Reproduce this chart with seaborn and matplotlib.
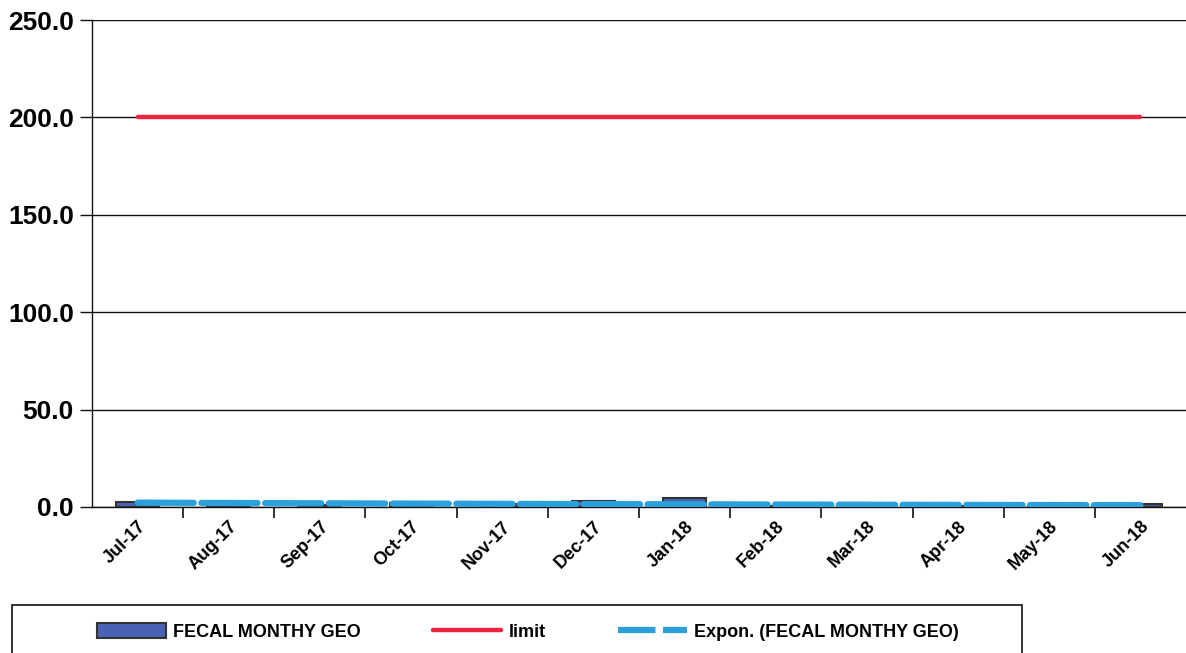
import numpy as np
import pandas as pd
import matplotlib
matplotlib.use("Agg")
import matplotlib.pyplot as plt
from matplotlib.patches import Rectangle, Patch
from matplotlib.lines import Line2D
import seaborn as sns

months = ["Jul-17", "Aug-17", "Sep-17", "Oct-17", "Nov-17", "Dec-17",
          "Jan-18", "Feb-18", "Mar-18", "Apr-18", "May-18", "Jun-18"]
fecal_geo = [2.6, 1.4, 1.2, 1.8, 1.5, 3.2, 4.6, 0.7, 1.4, 0.5, 0.6, 1.5]
limit = [200.0] * 12
y_ticks = [0, 50, 100, 150, 200, 250]

sns.set_theme(style="white")
plt.rcParams["font.family"] = ["Liberation Sans", "DejaVu Sans"]
plt.rcParams["text.color"] = "black"
plt.rcParams["xtick.color"] = "black"
plt.rcParams["ytick.color"] = "black"

df = pd.DataFrame({"month": months, "geo": fecal_geo, "limit": limit})

fig = plt.figure(figsize=(11.86, 6.53), dpi=100)
ax = fig.add_axes([92 / 1186, 1 - 507 / 653, 1 - 92 / 1186, (507 - 20) / 653])

bar_color = "#4a62b4"
limit_color = "#ec2440"
trend_color = "#2aa0dc"

sns.barplot(data=df, x="month", y="geo", color=bar_color, width=0.47,
            edgecolor="#333333", linewidth=1.5, saturation=1, ax=ax, zorder=3)

xpos = np.arange(len(months))
ax.plot(xpos, df["limit"], color=limit_color, lw=3.2, solid_capstyle="round", zorder=4)

# exponential trendline fitted to the monthly geometric means
b, log_a = np.polyfit(xpos, np.log(df["geo"]), 1)
trend = np.exp(log_a) * np.exp(b * xpos)
ax.plot(xpos, trend, color=trend_color, lw=4.5, dashes=(9, 1.2),
        dash_capstyle="round", zorder=5)

ax.set_xlim(-0.5, 11.5)
ax.set_ylim(0, 250)
ax.set_yticks(y_ticks)
ax.set_yticklabels([f"{v:.1f}" for v in y_ticks], fontsize=19, fontweight="bold")
ax.set_xticks(xpos)
ax.set_xticklabels(months, rotation=45, ha="right", rotation_mode="anchor",
                   fontsize=13, fontweight="bold")
ax.set_xlabel("")
ax.set_ylabel("")
ax.yaxis.grid(True, color="#111111", lw=1.0)
ax.set_axisbelow(True)

for side in ["top", "right"]:
    ax.spines[side].set_visible(False)
ax.spines["left"].set_color("#111111")
ax.spines["bottom"].set_color("#111111")
ax.spines["left"].set_linewidth(1.0)
ax.spines["bottom"].set_linewidth(1.0)

ax.tick_params(axis="y", left=True, length=9, width=1, color="#111111", pad=4)
ax.tick_params(axis="x", bottom=False, pad=2)
# category separators on the x axis
ax.set_xticks(np.arange(0.5, 11.5, 1), minor=True)
ax.tick_params(axis="x", which="minor", bottom=True, length=8, width=1.2,
               color="#111111")

# legend frame
fig.patches.append(Rectangle((12 / 1186, -0.05), (1022 - 12) / 1186,
                             1 - 605 / 653 + 0.05, transform=fig.transFigure,
                             fill=False, edgecolor="#111111", lw=1.2))

handles = [
    Patch(facecolor=bar_color, edgecolor="#333333", lw=1.5),
    Line2D([], [], color=limit_color, lw=3.2),
    Line2D([], [], color=trend_color, lw=4.5, dashes=(6, 1.2)),
]
labels = ["FECAL MONTHY GEO", "limit", "Expon. (FECAL MONTHY GEO)"]
fig.legend(handles, labels, loc="center left",
           bbox_to_anchor=(97 / 1186, 1 - 632 / 653), ncol=3, frameon=False,
           prop={"weight": "bold", "size": 13}, handlelength=3.8,
           handleheight=0.9, handletextpad=0.4, columnspacing=4.0,
           borderaxespad=0, borderpad=0)

fig.savefig("out.png", dpi=100)
